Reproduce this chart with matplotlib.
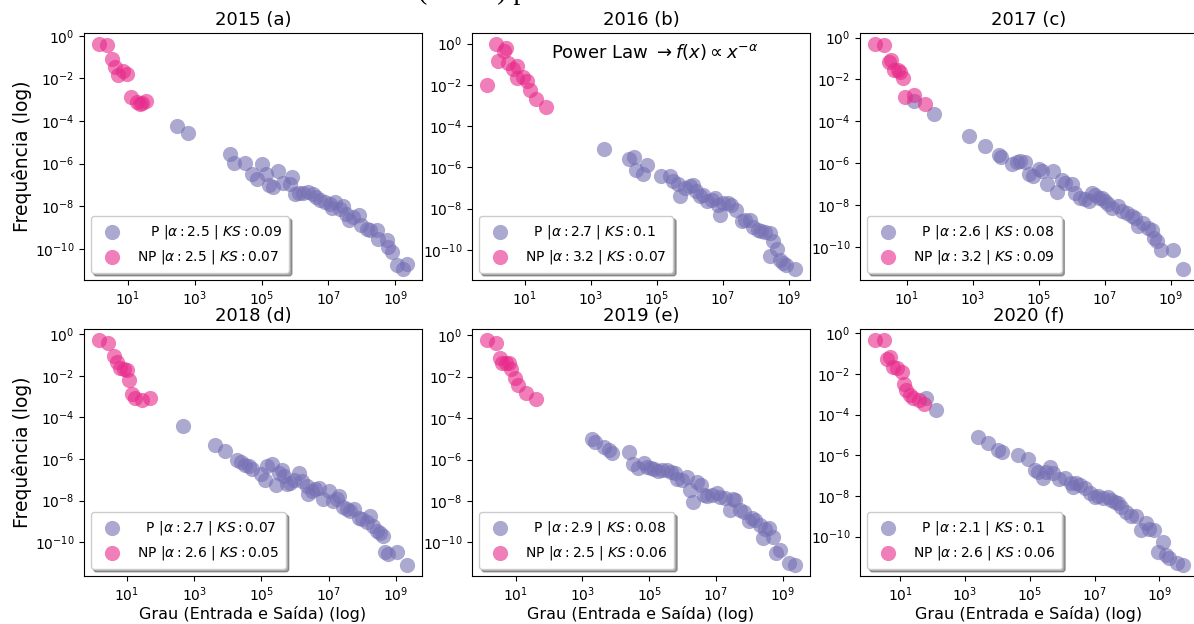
import numpy as np
import matplotlib
matplotlib.use("Agg")
import matplotlib.pyplot as plt

# ---------------- data (log10 of degree and log10 of frequency) ----------------
titles = ["2015 (a)", "2016 (b)", "2017 (c)", "2018 (d)", "2019 (e)", "2020 (f)"]

p_alpha = [2.5, 2.7, 2.6, 2.7, 2.9, 2.1]
p_ks = [0.09, 0.1, 0.08, 0.07, 0.08, 0.1]
np_alpha = [2.5, 3.2, 3.2, 2.6, 2.5, 2.6]
np_ks = [0.07, 0.07, 0.09, 0.05, 0.06, 0.06]

# 2015
np15_lx = [0.15, 0.39, 0.52, 0.62, 0.72, 0.85, 0.97, 1.09, 1.27, 1.37, 1.54, 1.42]
np15_ly = [-0.39, -0.42, -1.10, -1.44, -1.84, -1.65, -1.79, -2.89, -3.09, -3.20, -3.06, -3.17]
p15_lx = [2.46, 2.79, 4.06, 4.19, 4.51, 4.71, 4.85, 5.02, 5.12, 5.23, 5.33, 5.50, 5.65, 5.85,
          5.90, 6.00, 6.13, 6.25, 6.40, 6.53, 6.63, 6.75, 6.90, 7.05, 7.20, 7.10, 7.34, 7.44,
          7.54, 7.62, 7.74, 7.92, 7.99, 8.14, 8.24, 8.44, 8.49, 8.74, 8.79, 8.89, 9.04, 9.24, 9.34]
p15_ly = [-4.24, -4.58, -5.56, -5.97, -5.95, -6.47, -6.70, -6.00, -6.47, -7.02, -7.10, -6.34, -6.91, -6.94,
          -6.62, -7.44, -7.36, -7.38, -7.35, -7.41, -7.57, -7.72, -7.80, -7.88, -7.80, -8.07, -8.12, -7.99,
          -8.35, -8.67, -8.51, -8.43, -8.90, -9.06, -9.14, -9.11, -9.53, -9.58, -9.92, -10.16, -10.78, -10.94, -10.71]

# 2016
np16_lx = [-0.14, 0.11, 0.19, 0.36, 0.44, 0.49, 0.65, 0.75, 0.77, 0.93, 1.05, 1.15, 1.33, 1.64]
np16_ly = [-2.01, -0.03, -0.84, -0.36, -0.19, -0.92, -1.25, -1.09, -1.65, -1.62, -1.82, -2.27, -2.71, -3.08]
p16_lx = [3.39, 4.16, 4.31, 4.38, 4.59, 4.69, 5.14, 5.39, 5.49, 5.65, 5.70, 5.85, 6.00, 6.10,
          6.20, 6.30, 6.40, 6.51, 6.66, 6.76, 6.86, 6.93, 7.01, 7.16, 7.26, 7.41, 7.57, 7.67,
          7.82, 7.92, 8.07, 8.17, 8.27, 8.42, 8.53, 8.63, 8.42, 8.73, 8.83, 8.93, 9.18]
p16_ly = [-5.09, -5.62, -5.49, -6.11, -6.32, -5.90, -6.43, -6.43, -6.68, -6.81, -7.41, -7.00, -6.92, -6.84,
          -7.16, -7.37, -7.33, -7.65, -7.57, -7.49, -7.84, -8.30, -7.73, -7.73, -7.84, -8.06, -8.62, -8.54,
          -8.54, -8.87, -9.03, -9.11, -9.14, -9.19, -9.59, -9.95, -10.28, -10.49, -10.65, -10.73, -10.92]

# 2017
np17_lx = [0.04, 0.31, 0.44, 0.52, 0.60, 0.72, 0.78, 0.88, 0.95, 1.22, 1.56]
np17_ly = [-0.32, -0.35, -1.15, -1.07, -1.55, -1.55, -1.63, -1.92, -2.83, -2.75, -3.18]
p17_lx = [1.20, 1.83, 2.87, 3.37, 3.78, 3.85, 4.18, 4.33, 4.43, 4.59, 4.69, 4.82, 4.99, 5.09,
          5.24, 5.44, 5.55, 5.70, 5.80, 6.00, 6.10, 6.25, 6.40, 6.51, 6.61, 6.71, 6.81, 6.91,
          7.01, 7.11, 7.21, 7.41, 7.52, 7.67, 7.82, 7.92, 8.02, 8.17, 8.32, 8.42, 8.49, 8.58,
          8.70, 9.06, 9.36]
p17_ly = [-3.02, -3.66, -4.67, -5.15, -5.58, -5.71, -6.03, -5.95, -5.87, -5.95, -6.51, -6.59, -6.27, -6.35,
          -6.99, -6.38, -7.34, -6.78, -6.91, -6.99, -7.39, -7.63, -7.71, -7.79, -7.39, -7.50, -7.63, -7.66,
          -7.79, -7.95, -8.11, -8.03, -8.27, -8.35, -8.51, -8.59, -8.99, -8.83, -9.07, -9.15, -9.55, -9.71,
          -10.11, -10.11, -11.02]

# 2018
np18_lx = [0.18, 0.43, 0.62, 0.70, 0.78, 0.90, 1.00, 1.07, 1.15, 1.25, 1.45, 1.69]
np18_ly = [-0.29, -0.40, -1.05, -1.32, -1.64, -1.69, -1.72, -2.20, -2.87, -3.08, -3.16, -3.08]
p18_lx = [2.68, 3.63, 3.92, 4.27, 4.39, 4.52, 4.62, 4.72, 4.98, 5.16, 5.11, 5.31, 5.44, 5.51,
          5.61, 5.66, 5.76, 5.86, 5.96, 6.13, 6.20, 6.35, 6.40, 6.50, 6.60, 6.70, 6.83, 7.00,
          7.14, 7.24, 7.31, 7.44, 7.54, 7.64, 7.74, 7.89, 7.99, 8.14, 8.24, 8.33, 8.43, 8.53,
          8.63, 8.68, 8.78, 9.03, 9.32]
p18_ly = [-4.43, -5.34, -5.60, -6.03, -6.16, -6.27, -6.35, -6.48, -6.70, -6.32, -6.99, -6.24, -7.27, -6.67,
          -6.54, -6.83, -7.22, -7.15, -6.99, -6.67, -7.07, -7.30, -7.70, -7.54, -7.46, -7.38, -7.94, -7.54,
          -8.02, -7.94, -7.78, -8.29, -8.42, -8.50, -8.42, -8.82, -8.90, -9.03, -8.74, -9.22, -9.46, -9.54,
          -9.70, -10.46, -10.57, -10.45, -11.08]

# 2019
np19_lx = [0.15, 0.42, 0.53, 0.60, 0.70, 0.80, 0.87, 0.97, 1.07, 1.30, 1.62]
np19_ly = [-0.24, -0.35, -1.12, -1.33, -1.32, -1.36, -1.61, -2.04, -2.38, -2.78, -3.10]
p19_lx = [3.29, 3.39, 3.66, 3.79, 3.89, 4.39, 4.52, 4.66, 4.84, 4.94, 5.04, 5.14, 5.26, 5.39,
          5.52, 5.64, 5.76, 5.84, 5.99, 6.14, 6.22, 6.32, 6.44, 6.54, 6.64, 6.74, 6.89, 7.04,
          7.13, 7.28, 7.41, 7.51, 7.58, 7.73, 7.83, 7.98, 8.08, 8.18, 8.31, 8.41, 8.48, 8.58,
          8.71, 8.81, 8.93, 9.18, 9.36]
p19_ly = [-5.02, -5.14, -5.38, -5.54, -5.67, -5.65, -6.21, -6.42, -6.18, -6.34, -6.42, -6.47, -6.53, -6.50,
          -6.50, -6.58, -6.66, -6.95, -6.98, -6.82, -7.46, -8.03, -7.06, -7.22, -7.70, -7.78, -7.70, -7.62,
          -7.83, -7.87, -8.43, -7.91, -7.95, -8.43, -8.51, -8.99, -8.83, -8.94, -9.15, -9.79, -9.36, -9.31,
          -9.74, -10.51, -10.35, -11.00, -11.08]

# 2020
np20_lx = [0.23, 0.51, 0.59, 0.67, 0.77, 0.90, 1.05, 1.10, 1.18, 1.29, 1.39, 1.59, 1.72]
np20_ly = [-0.34, -0.34, -1.24, -1.19, -1.65, -1.73, -1.90, -2.47, -2.77, -3.04, -3.16, -3.29, -3.49]
p20_lx = [1.80, 2.10, 3.41, 3.72, 4.03, 4.13, 4.64, 4.95, 5.15, 5.26, 5.41, 5.51, 5.62, 5.72,
          5.90, 6.08, 6.28, 6.33, 6.44, 6.54, 6.69, 6.85, 7.00, 7.10, 7.26, 7.41, 7.51, 7.62,
          7.72, 7.82, 7.97, 8.13, 8.28, 8.44, 8.59, 8.69, 8.85, 8.95, 9.10, 9.21, 9.31, 9.56, 9.72]
p20_ly = [-3.18, -3.78, -5.09, -5.42, -5.74, -5.83, -5.99, -6.20, -6.73, -6.81, -7.14, -6.81, -6.56, -6.89,
          -7.18, -7.14, -7.35, -7.55, -7.38, -7.46, -7.63, -7.84, -8.04, -8.00, -8.12, -8.07, -8.20, -8.28,
          -8.36, -8.53, -8.77, -8.99, -8.99, -9.67, -9.31, -9.64, -9.67, -10.74, -10.29, -10.90, -11.06,
          -11.31, -11.39]

np_lx = [np15_lx, np16_lx, np17_lx, np18_lx, np19_lx, np20_lx]
np_ly = [np15_ly, np16_ly, np17_ly, np18_ly, np19_ly, np20_ly]
p_lx = [p15_lx, p16_lx, p17_lx, p18_lx, p19_lx, p20_lx]
p_ly = [p15_ly, p16_ly, p17_ly, p18_ly, p19_ly, p20_ly]
p_pad = ["   ", "  ", "  ", "  ", "  ", "  "]

# ---------------- figure ----------------
W, H = 1194, 624
fig = plt.figure(figsize=(W / 100, H / 100), dpi=100)

col_left = [84, 472, 860]
row_bottom = [280, 576]
ax_w, ax_h = 338, 247

C_P = "#7570b3"
C_NP = "#e7298a"

for i in range(6):
    r, c = divmod(i, 3)
    rect = [col_left[c] / W, (H - row_bottom[r]) / H, ax_w / W, ax_h / H]
    ax = fig.add_axes(rect)
    ax.set_xscale("log")
    ax.set_yscale("log")
    lab_p = p_pad[i] + r"P $|\alpha: %s$ | $KS: %s$" % (p_alpha[i], p_ks[i])
    lab_np = r"NP $|\alpha: %s$ | $KS: %s$" % (np_alpha[i], np_ks[i])
    ax.scatter(10 ** np.array(p_lx[i]), 10 ** np.array(p_ly[i]), s=120, color=C_P,
               alpha=0.6, linewidths=0, label=lab_p, zorder=2)
    ax.scatter(10 ** np.array(np_lx[i]), 10 ** np.array(np_ly[i]), s=120, color=C_NP,
               alpha=0.6, linewidths=0, label=lab_np, zorder=3)
    ax.set_title(titles[i], fontsize=13)
    ax.set_xticks([1e1, 1e3, 1e5, 1e7, 1e9])
    ax.set_yticks([1e0, 1e-2, 1e-4, 1e-6, 1e-8, 1e-10])
    ax.minorticks_off()
    ax.tick_params(labelsize=10)
    ax.legend(loc="lower left", shadow=True, fontsize=10, borderpad=0.5)
    if c == 0:
        ax.set_ylabel("Frequência (log)", fontsize=13.5, labelpad=2)
    if r == 1:
        ax.set_xlabel("Grau (Entrada e Saída) (log)", fontsize=11.5, labelpad=1)
    if i == 1:
        ax.text(0.54, 0.965, r"Power Law $\rightarrow f(x) \propto x^{-\alpha}$",
                transform=ax.transAxes, ha="center", va="top", fontsize=13)

fig.text(418 / W, 1 + 1.0 / H, "(          ) p", family="Liberation Serif",
         fontsize=20, ha="left", va="baseline")

fig.savefig("out.png", dpi=100)
